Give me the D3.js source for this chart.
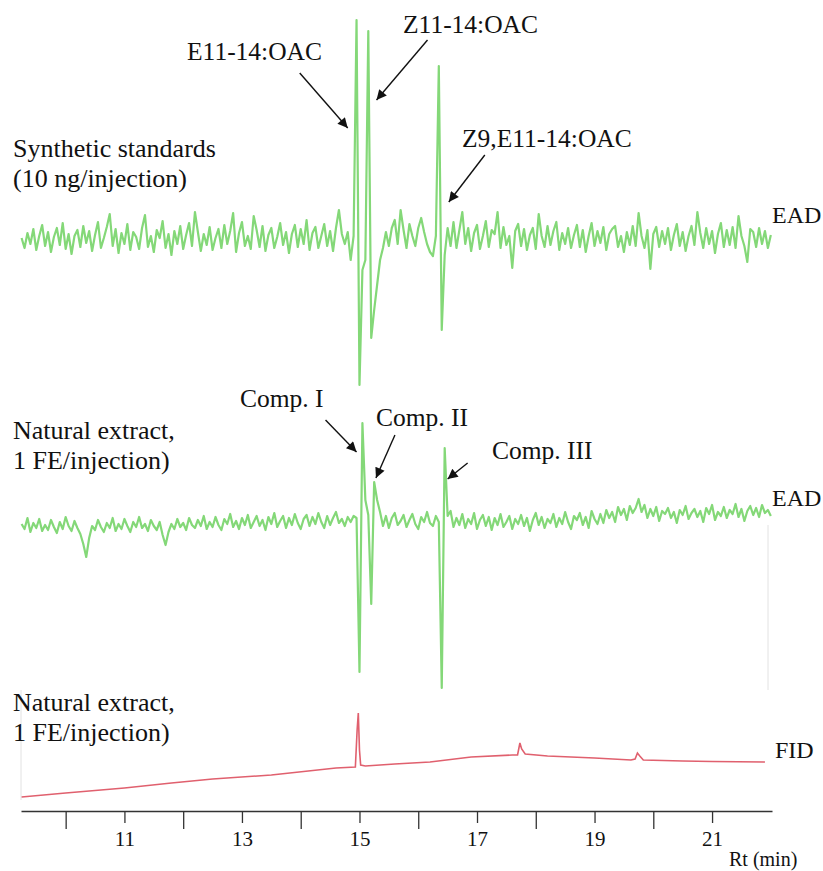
<!DOCTYPE html>
<html>
<head>
<meta charset="utf-8">
<script src="https://cdn.jsdelivr.net/npm/d3@7"></script>
<style>
  body { margin: 0; background: white; }
  svg text { font-family: "Liberation Serif", "Tinos", "DejaVu Serif", serif; fill: #111; }
</style>
</head>
<body>
<svg id="main-svg"></svg>
<script>
const svg = d3.select("#main-svg");

// FIXED
const CANVAS_WIDTH = 823
const CANVAS_HEIGHT = 871
const GREEN = "#84d878"
const RED = "#e0606e"
const SERIF = '"Liberation Serif", "Tinos", "DejaVu Serif", serif'

// sampling of the EAD traces (min)
const tStart = 9.25
const tStep = 0.05

// EAD, synthetic standards (uV)
const eadSynthetic = [
  10, -40, 35, -20, 55, -50, 20, 75, -30, 40,
  -60, 15, 60, -25, 85, -45, 30, -70, 20, 50,
  -35, 70, -15, 45, -55, 25, 90, -40, 10, 65,
  130, -30, 55, -65, 35, -20, 80, -50, 40, 15,
  -45, 60, 125, -35, 20, -60, 50, 10, 95, -40,
  30, -75, 45, -20, 70, -45, 25, 85, -30, 140,
  40, -55, 30, -25, 65, -50, 10, 55, -40, 75,
  -20, 45, 135, -60, 35, 90, -30, 20, -45, 120,
  50, -35, 70, -55, 25, 60, -40, 15, 85, -25,
  40, -65, 30, 75, -35, 55, -20, 100, -50, 35,
  65, -40, 20, 80, -30, 45, -55, 60, 150, 30,
  -20, 40, -100, 20,
  1100, -725, -150, -100, 1045, -490, -350, -225, -100, -40,
  40, -30, 60, 100, -20, 150,
  50, -40, 80, 20, -30, 60, 110, 40, -20, -60,
  -80, 20,
  870, -450, -75,
  60, -30, 90, -40, 50,
  140, -20, 60, -55, 35, 75, -45, 20, 95, -35,
  50, 30, 140, -40, 65, -25, 20, -140, 45, 80,
  -30, 55, -50, 25, 60, -45, 130, 20, -35, 70,
  -25, 45, 90, -50, 35, -20, 60, -40, 25, 75,
  -35, 50, -60, 20, 85, -30, 45, -15, 65, -50,
  30, 55, 70, -35, 20, -60, 40, -25, 70, -30,
  135, 20, -40, 50, -145, 30, 65, -35, 45, -20,
  60, -50, 25, 80, -30, 40, -55, 20, 70, -25,
  140, 35, -40, 60, -20, 45, -65, 30, 85, -35,
  50, -25, 65, -40, 120, 20, -30, -110, 55, 40,
  -35, 60, -20, 45, -40, 25
]

// EAD, natural extract (uV)
const eadNatural = [
  -20, -45, 10, -60, -15, -40, 5, -55, -25, -50,
  0, -35, -65, -10, -45, 15, -30, -55, -5, -40,
  -70, -120, -185, -90, -30, -50, 0, -35, -60, -15,
  -40, 10, -55, -20, -45, 5, -30, -60, -10, -35,
  15, -40, -20, -55, 0, -30, -50, -10, -75, -125,
  -60, -20, -45, 5, -35, -15, -50, 10, -25, -40,
  0, -30, 20, -45, -10, -35, 15, -25, -50, 5,
  -20, 30, -35, -5, -45, 10, -25, 25, -40, -10,
  20, -30, 0, -50, 15, -20, 35, -35, -5, 20,
  -40, 10, -25, 30, -15, -45, 5, 25, -30, 15,
  -20, 35, -10, -40, 20, -25, 10, 40, -15, 5,
  -30, 15, -10, 20,
  10, -760, 485, 100, 25, -420, 190, 100, 40, -30,
  20, -40, 10, 35, -25, -5,
  25, -35, 0, 30, -20, -45, 15, -10, 40, -15,
  -30, 20, -10,
  -840, 360,
  20, 45, -35, 10, -25,
  30, -40, 5, -20, 35, -45, 0, 25, -30, 15,
  -50, 10, -25, 30, -35, -10, 20, -45, 5, -20,
  25, -30, 10, -55, 0, 35, -25, 15, -40, 5,
  -15, 30, -35, 10, -20, 40, -10, -45, 20, 0,
  35, -25, 15, -40, 45, 5, -20, 30, -15, 50,
  10, 40, -10, 65, 25, 55, 0, 70, 35, 60,
  105, 40, 75, 10, 55, 20, 65, -5, 45, 30,
  60, 10, 40, -15, 50, 25, 70, 5, 35, 55,
  15, 45, -10, 60, 30, 75, 0, 40, 20, 65,
  10, 50, 30, 80, 15, 55, -5, 45, 70, 25,
  60, 15, 75, 35, 50, 20
]

// FID, natural extract
const fidTimes = [9.25, 10.0, 11.0, 11.8, 12.5, 13.5, 14.6, 14.93, 14.96, 14.98, 15.0, 15.02, 15.1,
  15.6, 16.2, 16.9, 17.6, 17.69, 17.73, 17.76, 17.82, 18.2, 19.0, 19.62, 19.69, 19.73, 19.77, 19.83,
  20.5, 21.0, 21.9]
const fidValues = [3, 7, 12, 17, 21, 25, 32, 33, 70, 87, 50, 35, 34,
  36, 38, 43, 45, 45, 57, 51, 46, 44, 42, 40, 41, 47, 44, 40,
  39, 38.5, 38]

const tickValues = [10, 11, 12, 13, 14, 15, 16, 17, 18, 19, 20, 21]
const tickLabels = ["", "11", "", "13", "", "15", "", "17", "", "19", "", "21"]

const peakNames = ["E11-14:OAC", "Z11-14:OAC", "Z9,E11-14:OAC"]
const peakTimes = [14.80, 15.29, 16.52]
const peakLevels = [560, 700, 190]

const compNames = ["Comp. I", "Comp. II", "Comp. III"]
const compTimes = [14.95, 15.28, 16.50]
const compLevels = [340, 210, 205]

svg
  .attr("width", CANVAS_WIDTH)
  .attr("height", CANVAS_HEIGHT);

svg.append("rect")
  .attr("width", "100%")
  .attr("height", "100%")
  .attr("fill", "white");

const x = d3.scaleLinear().domain([9.24, 22.02]).range([21, 772]);
const yTop = d3.scaleLinear().domain([-1000, 1000]).range([440, 40]);
const yMid = d3.scaleLinear().domain([-1000, 1000]).range([720, 320]);
const yFid = d3.scaleLinear().domain([0, 100]).range([800, 700]);

const defs = svg.append("defs");
defs.append("marker")
  .attr("id", "arrow")
  .attr("viewBox", "0 0 10 10")
  .attr("refX", 10)
  .attr("refY", 5)
  .attr("markerUnits", "userSpaceOnUse")
  .attr("markerWidth", 13)
  .attr("markerHeight", 10)
  .attr("orient", "auto")
  .append("path")
  .attr("d", "M0,0 L10,5 L0,10 z")
  .attr("fill", "#111");

// faint frame lines of the original recording
svg.append("line")
  .attr("x1", 21).attr("x2", 21).attr("y1", 690).attr("y2", 800)
  .attr("stroke", "#e2e2e2");
svg.append("line")
  .attr("x1", 768).attr("x2", 768).attr("y1", 525).attr("y2", 690)
  .attr("stroke", "#e2e2e2");

const sampled = (y) => d3.line()
  .x((d, i) => x(tStart + i * tStep))
  .y(d => y(d));

svg.append("path")
  .datum(eadSynthetic)
  .attr("d", sampled(yTop))
  .attr("fill", "none")
  .attr("stroke", GREEN)
  .attr("stroke-width", 2.2)
  .attr("stroke-linejoin", "round");

svg.append("path")
  .datum(eadNatural)
  .attr("d", sampled(yMid))
  .attr("fill", "none")
  .attr("stroke", GREEN)
  .attr("stroke-width", 2.2)
  .attr("stroke-linejoin", "round");

svg.append("path")
  .datum(fidTimes.map((t, i) => [t, fidValues[i]]))
  .attr("d", d3.line().x(d => x(d[0])).y(d => yFid(d[1])))
  .attr("fill", "none")
  .attr("stroke", RED)
  .attr("stroke-width", 1.6);

// x axis
const axis = svg.append("g")
  .attr("transform", "translate(0 811)")
  .call(d3.axisBottom(x)
    .tickValues(tickValues)
    .tickSize(18)
    .tickSizeOuter(0)
    .tickFormat((d, i) => tickLabels[i]));
axis.attr("font-family", SERIF);
axis.select(".domain").attr("stroke", "#333").attr("stroke-width", 1.5);
axis.selectAll(".tick line")
  .attr("stroke", "#333")
  .attr("stroke-width", 1.3)
  .attr("y2", (d, i) => tickLabels[i] ? 12 : 18);
axis.selectAll(".tick text")
  .attr("y", 20)
  .attr("fill", "#111")
  .style("font-family", SERIF)
  .style("font-size", "21px");

svg.append("text")
  .attr("x", 729).attr("y", 866)
  .style("font-size", "20px")
  .text("Rt (min)");

// trace labels
const addLines = (lines, px, py, size) => {
  lines.forEach((s, i) => {
    svg.append("text")
      .attr("x", px).attr("y", py + i * 30)
      .style("font-size", size + "px")
      .text(s);
  });
};
addLines(["Synthetic standards", "(10 ng/injection)"], 13, 157, 26);
addLines(["Natural extract,", "1 FE/injection)"], 13, 439, 26);
addLines(["Natural extract,", "1 FE/injection)"], 13, 711, 26);
addLines(["EAD"], 772, 223, 24);
addLines(["EAD"], 772, 506, 24);
addLines(["FID"], 775, 758, 24);

// arrows and peak names
const annotate = (names, times, levels, y, tails, labelPos) => {
  names.forEach((name, i) => {
    const tx = x(times[i]);
    const ty = y(levels[i]);
    svg.append("line")
      .attr("x1", tx + tails[i][0]).attr("y1", ty + tails[i][1])
      .attr("x2", tx).attr("y2", ty)
      .attr("stroke", "#111")
      .attr("stroke-width", 1.4)
      .attr("marker-end", "url(#arrow)");
    svg.append("text")
      .attr("x", labelPos[i][0]).attr("y", labelPos[i][1])
      .style("font-size", "25.5px")
      .text(name);
  });
};

annotate(peakNames, peakTimes, peakLevels, yTop,
  [[-48, -55], [51, -60], [36, -47]],
  [[187, 60], [403, 33], [462, 147]]);
annotate(compNames, compTimes, compLevels, yMid,
  [[-31, -32], [19, -43], [20, -16]],
  [[240, 407], [376, 426], [492, 459]]);
</script>
</body>
</html>
